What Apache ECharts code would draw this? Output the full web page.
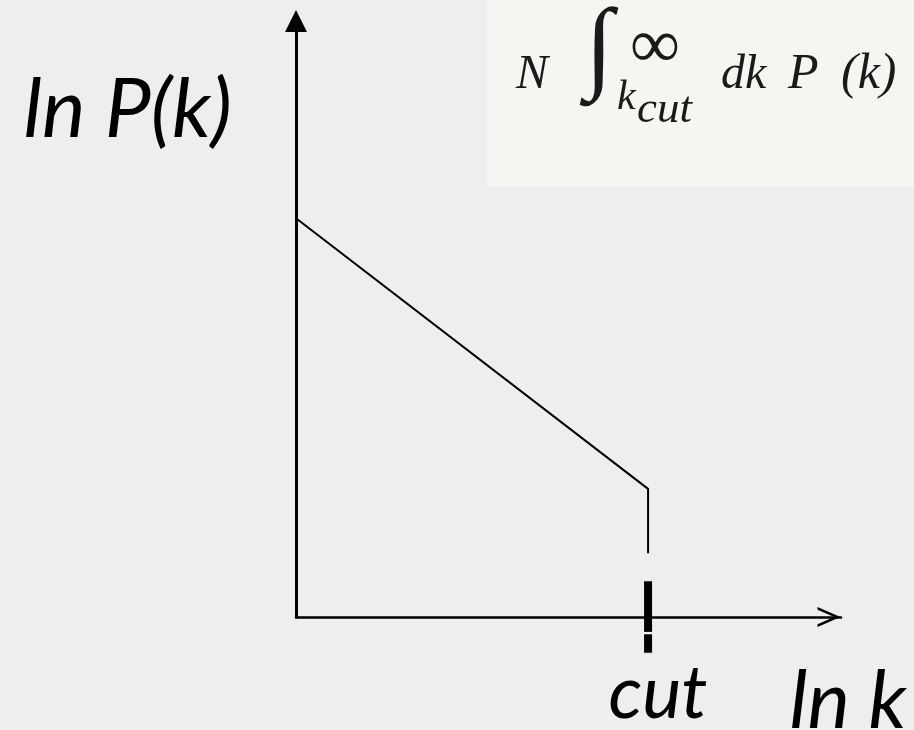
<!DOCTYPE html>
<html>
<head>
<meta charset="utf-8">
<script src="https://cdn.jsdelivr.net/npm/echarts@6/dist/echarts.min.js"></script>
<style>
  html, body { margin: 0; padding: 0; background: #eeeeee; }
  #chart { width: 914px; height: 730px; }
</style>
</head>
<body>
<div id="chart"></div>
<script>
// ln P(k) 随 ln k 线性下降，在 k_cut 处截断

// 曲线折点（x = ln k, y = ln P(k)）
const curveX = [0, 6.46, 6.46];
const curveY = [6.69, 2.15, 1.07];

// 截断位置与粗刻度（中间有一道细缝）
const cutX = 6.46;
const cutMarkUpper = [0.6, -0.25];
const cutMarkLower = [-0.29, -0.6];

// 轴范围
const xRange = [0, 10];
const yRange = [0, 10];

// 文字
const xName = 'ln k';
const yName = 'ln P(k)';
const cutLabel = 'cut';

const handFont = 'Lato, "Open Sans", sans-serif';
const mathFont = '"Liberation Serif", "DejaVu Serif", serif';

const chart = echarts.init(document.getElementById('chart'));

// 右上角公式小卡片
const formula = [
  { text: 'N', x: 516, y: 75, size: 48, italic: true },
  { text: '\u222B', x: 585, y: 52, size: 102, italic: true },
  { text: '\u221E', x: 630, y: 49, size: 70, italic: false },
  { text: 'k', x: 617, y: 98, size: 42, italic: true },
  { text: 'cut', x: 637, y: 110, size: 45, italic: true },
  { text: 'dk', x: 721, y: 75, size: 48, italic: true },
  { text: 'P', x: 788, y: 75, size: 50, italic: true },
  { text: '(k)', x: 841, y: 75, size: 50, italic: true }
];

const option = {
  backgroundColor: '#eeeeee',
  animation: false,
  grid: {
    left: 296,
    right: 73,
    top: 21,
    bottom: 113,
    outerBoundsMode: 'none'
  },
  xAxis: {
    type: 'value',
    min: xRange[0],
    max: xRange[1],
    name: xName,
    nameLocation: 'end',
    nameGap: 7,
    nameTextStyle: {
      fontFamily: handFont,
      fontStyle: 'italic',
      fontSize: 80,
      color: '#000',
      align: 'center',
      verticalAlign: 'top',
      padding: [45, 0, 0, 0]
    },
    axisLine: {
      onZero: false,
      symbol: ['none', 'path://M10,0L10,0.01M10,24L20,47L17.3,47L10,30.3L2.7,47L0,47Z'],
      symbolSize: [20, 48],
      lineStyle: { color: '#000', width: 2.5 }
    },
    axisTick: { show: false },
    splitLine: { show: false },
    axisLabel: {
      customValues: [cutX],
      formatter: () => cutLabel,
      margin: 40,
      fontFamily: handFont,
      fontStyle: 'italic',
      fontSize: 74,
      color: '#000',
      padding: [0, 0, 0, 20]
    }
  },
  yAxis: {
    type: 'value',
    min: yRange[0],
    max: yRange[1],
    name: yName,
    nameLocation: 'end',
    nameGap: -90,
    nameTextStyle: {
      fontFamily: handFont,
      fontStyle: 'italic',
      fontSize: 82,
      color: '#000',
      align: 'right',
      verticalAlign: 'middle',
      padding: [0, 64, 0, 0]
    },
    axisLine: {
      onZero: false,
      symbol: ['none', 'triangle'],
      symbolSize: [22, 22],
      lineStyle: { color: '#000', width: 3 }
    },
    axisTick: { show: false },
    axisLabel: { show: false },
    splitLine: { show: false }
  },
  graphic: [
    {
      type: 'rect',
      shape: { x: 487, y: 0, width: 427, height: 186 },
      style: { fill: '#f7f5f1' },
      z: 0
    }
  ].concat(formula.map(f => ({
    type: 'text',
    x: f.x,
    y: f.y,
    z: 1,
    style: {
      text: f.text,
      font: (f.italic ? 'italic ' : '') + f.size + 'px ' + mathFont,
      fill: '#1a1a1a',
      align: 'left',
      textAlign: 'left',
      verticalAlign: 'middle',
      textVerticalAlign: 'middle'
    }
  }))),
  series: [
    {
      type: 'line',
      data: curveX.map((x, i) => [x, curveY[i]]),
      symbol: 'none',
      clip: false,
      lineStyle: { color: '#000', width: 2 }
    },
    {
      type: 'line',
      data: cutMarkUpper.map(y => [cutX, y]),
      symbol: 'none',
      clip: false,
      lineStyle: { color: '#000', width: 8, cap: 'butt' }
    },
    {
      type: 'line',
      data: cutMarkLower.map(y => [cutX, y]),
      symbol: 'none',
      clip: false,
      lineStyle: { color: '#000', width: 8, cap: 'butt' }
    }
  ]
};

chart.setOption(option);
window.addEventListener('resize', () => chart.resize());
</script>
</body>
</html>
